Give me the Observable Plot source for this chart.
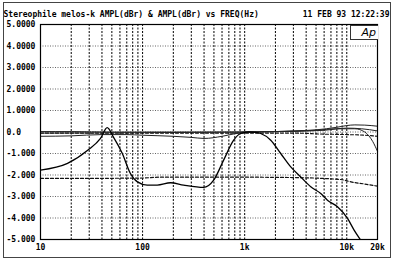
<!DOCTYPE html>
<html>
<head>
<meta charset="utf-8">
<script src="https://cdn.jsdelivr.net/npm/d3@7"></script>
<script src="https://cdn.jsdelivr.net/npm/@observablehq/plot@0.6"></script>
<style>
  html, body { margin: 0; padding: 0; background: #fff; }
  #wrap { position: relative; width: 400px; height: 261px; overflow: hidden; }
  #border { position: absolute; left: 3px; top: 2px; width: 386px; height: 254px; border: 1px solid #444; pointer-events: none; }
  #ap { position: absolute; left: 350px; top: 25px; width: 25px; height: 13px; background: #fff; border: 1px solid #333; border-right: none;
        font: italic 11px "DejaVu Sans", sans-serif; text-align: right; padding-right: 2px; line-height: 13px; box-sizing: content-box; }
  svg text { font-family: "DejaVu Sans Mono", monospace; font-weight: bold; }
</style>
</head>
<body>
<div id="wrap"><div id="border"></div></div>
<script>
const title = "Stereophile melos-k AMPL(dBr) & AMPL(dBr) vs FREQ(Hz)";
const stamp = "11 FEB 93 12:22:39";

const yTicks = [5, 4, 3, 2, 1, 0, -1, -2, -3, -4, -5];
const yLabels = ["5.0000", "4.0000", "3.0000", "2.0000", "1.0000", "0.0", "-1.000", "-2.000", "-3.000", "-4.000", "-5.000"];
const xTicks = [10, 100, 1000, 10000, 20000];
const xLabels = ["10", "100", "1k", "10k", "20k"];
const xGrid = [20,30,40,50,60,70,80,90,100,200,300,400,500,600,700,800,900,1000,2000,3000,4000,5000,6000,7000,8000,9000,10000];
const yGrid = [4, 3, 2, 1, 0, -1, -2, -3, -4];

// main response (solid)
const mainFreq = [10, 18.4, 29, 38.7, 45, 52, 63, 76, 89, 111, 139, 188, 252, 396, 497, 622, 780, 914, 1100, 1283, 1436, 1800, 2256, 2827, 3542, 4439, 5562, 6468, 8110, 10170, 11800, 13700];
const mainDb   = [-1.77, -1.46, -0.85, -0.3, 0.2, -0.25, -0.98, -1.93, -2.32, -2.47, -2.47, -2.36, -2.47, -2.58, -2.24, -1.31, -0.38, -0.07, 0.0, -0.02, -0.07, -0.38, -1.0, -1.62, -2.09, -2.55, -2.86, -3.17, -3.48, -4.02, -4.56, -5.03];

// near-zero responses
const aFreq = [10, 20, 50, 100, 200, 500, 1000, 2000, 3000, 5000, 8000, 10000, 12000, 15000, 20000];
const aDb   = [0.02, 0.02, 0.0, 0.0, 0.0, 0.0, 0.0, 0.02, 0.05, 0.1, 0.22, 0.3, 0.33, 0.32, 0.27];
const bFreq = [10, 20, 40, 70, 100, 200, 300, 400, 600, 800, 1000, 2000, 5000, 8000, 12000, 15000, 18000, 20000];
const bDb   = [-0.2, -0.18, -0.12, -0.12, -0.15, -0.2, -0.25, -0.3, -0.2, -0.08, 0.0, 0.02, 0.08, 0.15, 0.15, 0.0, -0.45, -0.9];
const cFreq = [10, 100, 1000, 3000, 6000, 10000, 14000, 20000];
const cDb   = [-0.05, -0.03, 0.0, 0.03, 0.08, 0.18, 0.15, 0.05];
const dFreq = [10, 100, 1000, 3000, 6000, 10000, 15000, 20000];
const dDb   = [-0.05, -0.05, -0.05, -0.05, -0.1, -0.12, -0.15, -0.2];

// lower dashed response
const eFreq = [10, 30, 60, 100, 150, 300, 600, 1000, 2000, 4000, 7000, 9000, 11000, 15000, 20000];
const eDb   = [-2.16, -2.16, -2.15, -2.14, -2.1, -2.1, -2.1, -2.1, -2.11, -2.13, -2.18, -2.22, -2.32, -2.42, -2.52];

const zip = (f, v) => f.map((x, i) => ({f: x, db: v[i]}));

const chart = Plot.plot({
  width: 400,
  height: 261,
  marginLeft: 40,
  marginRight: 23,
  marginTop: 24,
  marginBottom: 22,
  x: {type: "log", domain: [10, 20000], axis: null},
  y: {domain: [-5, 5], axis: null},
  marks: [
    Plot.gridY(yGrid, {stroke: "#000", strokeOpacity: 0.6, strokeDasharray: "1,1.5"}),
    Plot.gridX(xGrid, {stroke: "#000", strokeOpacity: 1, strokeDasharray: "2,1.5"}),
    Plot.line(zip(eFreq, eDb), {x: "f", y: "db", stroke: "#111", strokeWidth: 1.2, strokeDasharray: "3,2", curve: "monotone-x"}),
    Plot.line(zip(dFreq, dDb), {x: "f", y: "db", stroke: "#111", strokeWidth: 1.1, strokeDasharray: "3,2", curve: "monotone-x"}),
    Plot.line(zip(cFreq, cDb), {x: "f", y: "db", stroke: "#222", strokeWidth: 1, curve: "monotone-x"}),
    Plot.line(zip(bFreq, bDb), {x: "f", y: "db", stroke: "#222", strokeWidth: 1, curve: "monotone-x"}),
    Plot.line(zip(aFreq, aDb), {x: "f", y: "db", stroke: "#222", strokeWidth: 1, curve: "monotone-x"}),
    Plot.line(zip(mainFreq, mainDb), {x: "f", y: "db", stroke: "#000", strokeWidth: 1.3, curve: "monotone-x", clip: true}),
    Plot.frame({stroke: "#000", strokeWidth: 1.2}),
    Plot.text(yTicks, {y: d => d, text: (d, i) => yLabels[i], frameAnchor: "left", textAnchor: "start", dx: -34, fontSize: 8, fill: "#000"}),
    Plot.text(xTicks, {x: d => d, text: (d, i) => xLabels[i], frameAnchor: "bottom", dy: 10, fontSize: 8, fill: "#000"}),
    Plot.text([title], {text: d => d, frameAnchor: "top-left", textAnchor: "start", dx: -37, dy: -13, fontSize: 8, fill: "#000"}),
    Plot.text([stamp], {text: d => d, frameAnchor: "top-right", textAnchor: "end", dx: 12, dy: -13, fontSize: 8, fill: "#000"})
  ]
});
const wrap = document.getElementById("wrap");
wrap.insertBefore(chart, wrap.firstChild);
const ap = document.createElement("div");
ap.id = "ap";
ap.textContent = "Ap";
wrap.appendChild(ap);
</script>
</body>
</html>
